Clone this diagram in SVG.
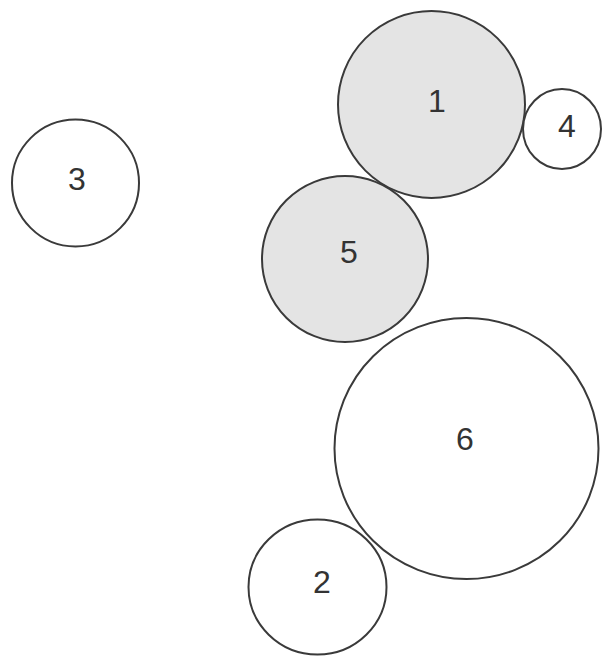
<svg xmlns="http://www.w3.org/2000/svg" width="602" height="656" viewBox="0 0 602 656">
<style>
.c{stroke:#3a3a3a;stroke-width:2;fill:#fff}
.s{fill:#e4e4e4}
.t{font-family:"Liberation Sans",Arial,sans-serif;font-size:32px;fill:#333;text-anchor:middle}
</style>
<rect width="602" height="656" fill="#fff"/>
<g id="connectors"></g>
<g id="node1"><circle class="c s" cx="431.5" cy="104.5" r="93.5"/><text class="t" x="437" y="112">1</text></g>
<g id="node4"><ellipse class="c" cx="562" cy="129" rx="39" ry="40"/><text class="t" x="567" y="137">4</text></g>
<g id="node3"><circle class="c" cx="75.5" cy="183" r="63.5"/><text class="t" x="77" y="190">3</text></g>
<g id="node5"><circle class="c s" cx="345" cy="259" r="83"/><text class="t" x="349" y="263">5</text></g>
<g id="node6"><ellipse class="c" cx="466.5" cy="448.5" rx="132" ry="130.5"/><text class="t" x="465" y="450">6</text></g>
<g id="node2"><ellipse class="c" cx="317.5" cy="587" rx="69" ry="67.5"/><text class="t" x="322" y="593">2</text></g>
</svg>
